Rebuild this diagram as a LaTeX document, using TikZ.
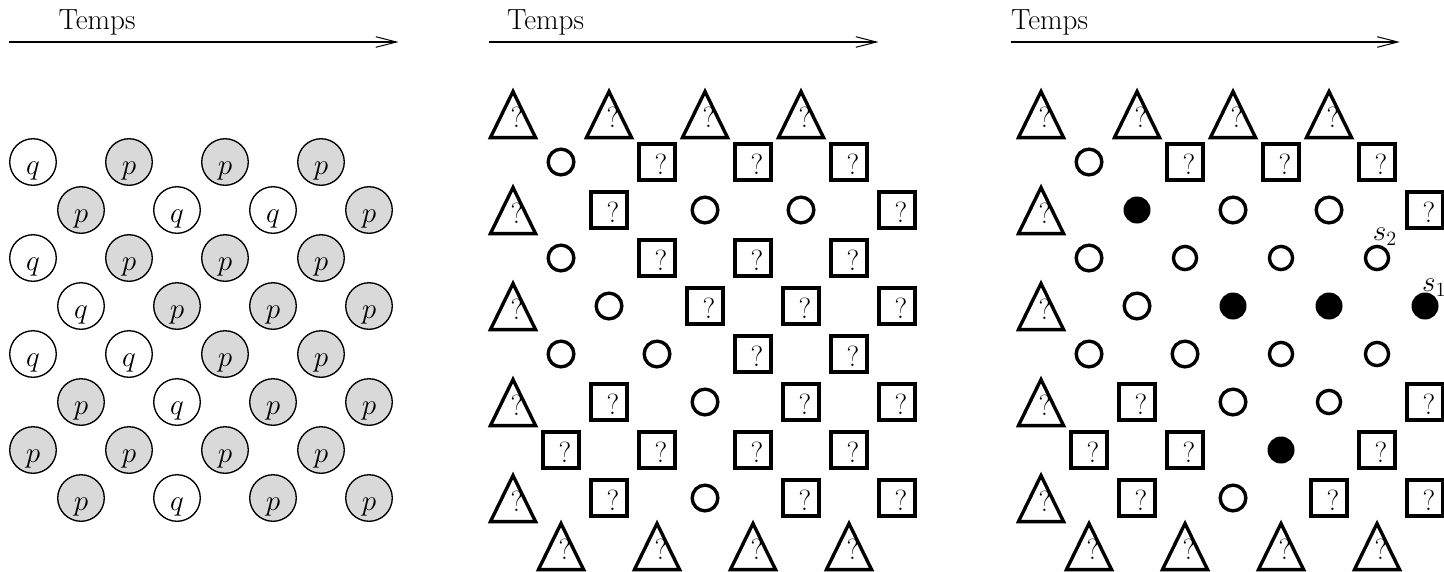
\documentclass[tikz,border=0pt]{standalone}
\usetikzlibrary{arrows.meta,shapes.geometric,calc}

\colorlet{fillp}{black!15}
\colorlet{fillq}{white}

\begin{document}
\begin{tikzpicture}[
    site/.style={circle, draw, line width=0.8pt, fill=fill#1, minimum size=0.97cm, inner sep=0pt, font=\LARGE, text height=0.5cm, text depth=0pt},
    qmark/.style={label={[font=\LARGE, inner sep=0pt, xshift=0.08cm, yshift=-0.045cm]center:?}},
    box/.style={rectangle, draw, line width=2pt, minimum size=0.744cm, inner sep=0pt, qmark},
    ring/.style={circle, draw, line width=2pt, minimum size=0.535cm, inner sep=0pt},
    sring/.style={ring, minimum size=0.483cm},
    disc/.style={circle, fill, minimum size=0.5625cm, inner sep=0pt},
    tri/.style={isosceles triangle, isosceles triangle stretches, shape border rotate=90, draw, line width=2pt, minimum width=0.94cm, minimum height=0.96cm, inner sep=0pt, anchor=south, label={[font=\LARGE, inner sep=0pt, xshift=0.08cm, yshift=0.685cm]south:?}},
    time/.style={-{Straight Barb[length=4.3mm, width=2.2mm]}, line width=0.6pt},
    tlabel/.style={anchor=base west, inner sep=0pt, font=\LARGE}
  ]
    \useasboundingbox (0,0) rectangle (30.083,-11.896);

    \node[tlabel] (ta) at (1.215,-0.615) {Temps};
    \node[tlabel] (tb) at (10.556,-0.615) {Temps};
    \node[tlabel] (tc) at (21.056,-0.615) {Temps};
    \coordinate (ua) at (0.194,-0.875);
    \coordinate (va) at (8.302,-0.875);
    \coordinate (ub) at (10.194,-0.875);
    \coordinate (vb) at (18.302,-0.875);
    \coordinate (uc) at (21.056,-0.875);
    \coordinate (vc) at (29.164,-0.875);
    \draw[time] (ua) -- (va);
    \draw[time] (ub) -- (vb);
    \draw[time] (uc) -- (vc);

    \foreach \j/\k/\v in {1/1/q, 1/3/p, 1/5/p, 1/7/p, 2/2/p, 2/4/q, 2/6/q, 2/8/p,
                          3/1/q, 3/3/p, 3/5/p, 3/7/p, 4/2/q, 4/4/p, 4/6/p, 4/8/p,
                          5/1/q, 5/3/q, 5/5/p, 5/7/p, 6/2/p, 6/4/q, 6/6/p, 6/8/p,
                          7/1/p, 7/3/p, 7/5/p, 7/7/p, 8/2/p, 8/4/q, 8/6/p, 8/8/p}
        \node[site=\v] (a\j\k) at ({-0.3125+\k}, {-2.375-\j}) {$\v$};

    \foreach \n/\x in {b/10.6875, c/21.6875} {
        \foreach \k in {0,2,4,6}
            \node[tri] (\n0\k) at ({\x+\k}, -2.902) {};
        \foreach \j in {2,4,6,8}
            \node[tri] (\n\j0) at (\x, {-2.902-\j}) {};
        \foreach \k in {1,3,5,7}
            \node[tri] (\n9\k) at ({\x+\k}, -11.902) {};
    }

    \foreach \j/\k/\s in {1/1/ring, 1/3/box, 1/5/box, 1/7/box, 2/2/box, 2/4/ring, 2/6/ring, 2/8/box,
                          3/1/ring, 3/3/box, 3/5/box, 3/7/box, 4/2/ring, 4/4/box, 4/6/box, 4/8/box,
                          5/1/ring, 5/3/ring, 5/5/box, 5/7/box, 6/2/box, 6/4/ring, 6/6/box, 6/8/box,
                          7/1/box, 7/3/box, 7/5/box, 7/7/box, 8/2/box, 8/4/ring, 8/6/box, 8/8/box}
        \node[\s] (b\j\k) at ({10.6875+\k}, {-2.375-\j}) {};

    \foreach \j/\k/\s in {1/1/ring, 1/3/box, 1/5/box, 1/7/box, 2/2/disc, 2/4/ring, 2/6/ring, 2/8/box,
                          3/1/ring, 3/3/sring, 3/5/sring, 3/7/sring, 4/2/ring, 4/4/disc, 4/6/disc, 4/8/disc,
                          5/1/ring, 5/3/ring, 5/5/sring, 5/7/sring, 6/2/box, 6/4/ring, 6/6/sring, 6/8/box,
                          7/1/box, 7/3/box, 7/5/disc, 7/7/box, 8/2/box, 8/4/ring, 8/6/box, 8/8/box}
        \node[\s] (c\j\k) at ({21.6875+\k}, {-2.375-\j}) {};

    \node[tlabel] (s2) at ($(c37)+(-0.094,0.36)$) {$s_2$};
    \node[tlabel] (s1) at ($(c48)+(-0.065,0.298)$) {$s_1$};
\end{tikzpicture}
\end{document}
